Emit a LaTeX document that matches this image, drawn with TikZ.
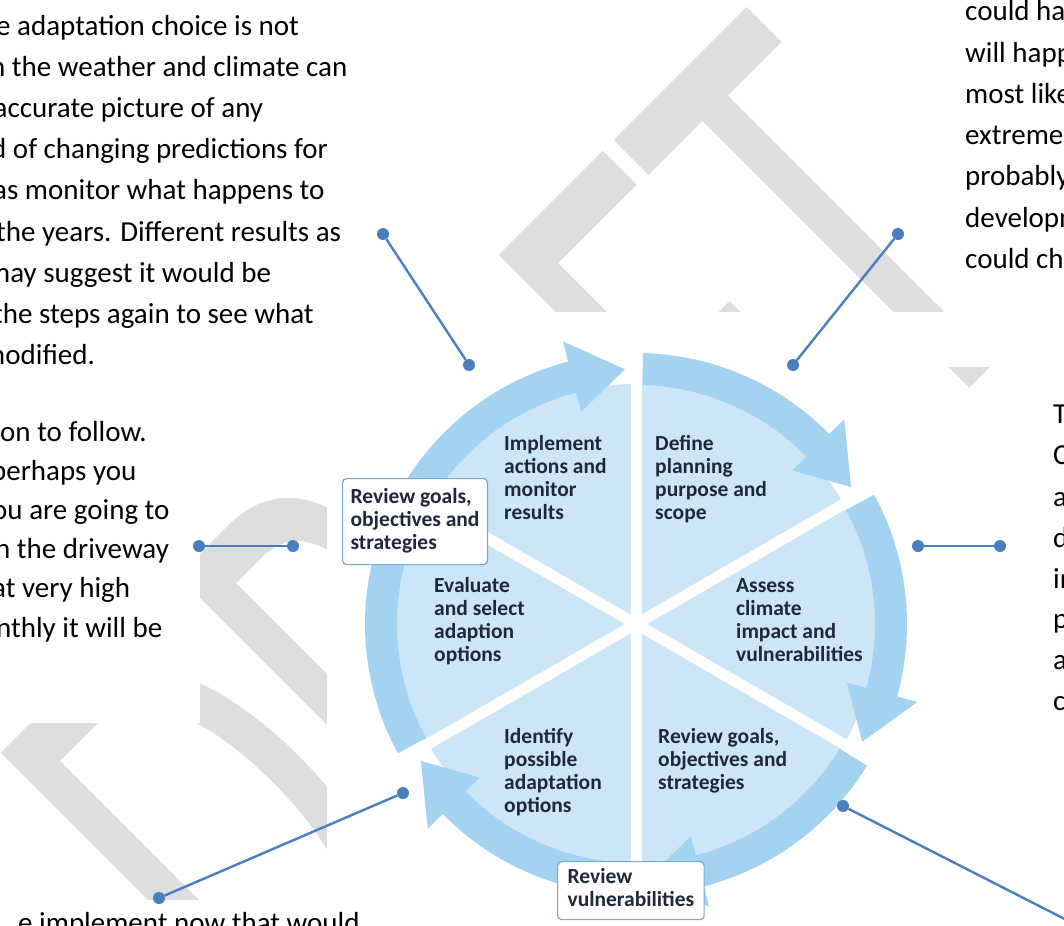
\documentclass[tikz,border=0pt]{standalone}
\usepackage{fontspec}
\setmainfont{Carlito}
\definecolor{ringblue}{RGB}{163,211,241}
\definecolor{discblue}{RGB}{204,230,247}
\definecolor{boxborder}{RGB}{120,170,205}
\definecolor{diagtext}{RGB}{30,40,58}
\definecolor{connblue}{RGB}{74,126,191}
\definecolor{wmgray}{RGB}{222,222,222}
\newcommand{\stacklines}[1]{\begin{tabular}[t]{@{}l@{}}#1\end{tabular}}
\begin{document}
\begin{tikzpicture}[x=1pt,y=-1pt,
  bodytext/.style={font=\fontsize{29}{41}\selectfont, anchor=base west, inner sep=0pt, text=black},
  steplabel/.style={font=\fontsize{21.5}{23}\selectfont\bfseries, anchor=base west, inner sep=0pt, text=diagtext},
  notebox/.style={font=\fontsize{21.5}{23}\selectfont\bfseries, anchor=north west, text=diagtext,
    draw=boxborder, line width=1.2pt, fill=white, rounded corners=4pt},
  dot/.style={circle, fill=connblue, inner sep=0pt, minimum size=12pt},
  conn/.style={draw=connblue, line width=2.4pt},
]
\useasboundingbox (0,0) rectangle (1064,925);
\clip (0,0) rectangle (1064,925);
\fill[white] (0,0) rectangle (1064,925);

% watermark
\node[text=wmgray, font=\fontsize{665}{700}\selectfont, rotate=45, xscale=0.61,
      anchor=base west, inner sep=0pt] (wm) at (283,1075) {DRAFT};

% areas of the page that sit over the watermark
\fill[white] (-10,-10) rectangle (200,723);
\fill[white] (-10,900) rectangle (327,935);
\fill[white] (327,312) rectangle (945,935);
\fill[white] (943,-10) rectangle (1070,367);

% left column text
\node[bodytext] (l1) at (-4,36) {e adaptation choice is not};
\node[bodytext] (l2) at (-10,77) {n the weather and climate can};
\node[bodytext] (l3) at (-6.5,118) {accurate picture of any};
\node[bodytext] (l4) at (-9,159) {d of changing predictions for};
\node[bodytext] (l5) at (-7,200) {as monitor what happens to};
\node[bodytext] (l6) at (-4,241) {the years. Different results as};
\node[bodytext] (l7) at (-13,282) {may suggest it would be};
\node[bodytext] (l8) at (-7,323) {the steps again to see what};
\node[bodytext] (l9) at (-18,364) {modified.};

\node[bodytext] (m1) at (0,441) {on to follow.};
\node[bodytext] (m2) at (-9,480) {perhaps you};
\node[bodytext] (m3) at (-8,519) {ou are going to};
\node[bodytext] (m4) at (-5,558) {n the driveway};
\node[bodytext] (m5) at (-8,597) {at very high};
\node[bodytext] (m6) at (-4,637) {nthly it will be};

\node[bodytext] (b1) at (18,932) {e implement now that would};

% right column text
\node[bodytext] (r1) at (965,21) {could have};
\node[bodytext] (r2) at (965,63) {will happen};
\node[bodytext] (r3) at (965,104) {most likely};
\node[bodytext] (r4) at (965,145) {extreme};
\node[bodytext] (r5) at (965,186) {probably};
\node[bodytext] (r6) at (965,227) {development};
\node[bodytext] (r7) at (965,268) {could change};

\node[bodytext] (s1) at (1053,423) {T};
\node[bodytext] (s2) at (1053,464) {C};
\node[bodytext] (s3) at (1053,506) {a};
\node[bodytext] (s4) at (1053,547) {d};
\node[bodytext] (s5) at (1053,588) {in};
\node[bodytext] (s6) at (1053,628) {p};
\node[bodytext] (s7) at (1053,669) {a};
\node[bodytext] (s8) at (1053,710) {c};

% cycle diagram
\begin{scope}[shift={(636,624)}, yscale=-1]
  \fill[discblue] (0,0) circle[radius=240];
  \foreach \a in {150,90,30,-30,-90,-150}{
    \pgfmathsetmacro{\angS}{\a-1.5}
    \pgfmathsetmacro{\angE}{\a-60+14.5}
    \pgfmathsetmacro{\angT}{\a-60+2.5}
    \fill[ringblue] (\angS:239) arc[start angle=\angS, end angle=\angE, radius=239]
      -- (\angE:219) -- (\angT:255) -- (\angE:292) -- (\angE:271)
      arc[start angle=\angE, end angle=\angS, radius=271] -- cycle;
  }
  \foreach \a in {90,30,-30,-90,-150,150}
    \draw[white, line width=11pt] (0,0) -- (\a:242);
\end{scope}

\node[steplabel] (implement) at (504,450) {\stacklines{Implement\\actions and\\monitor\\results}};
\node[steplabel] (define) at (655,450) {\stacklines{Define\\planning\\purpose and\\scope}};
\node[steplabel] (evaluate) at (434,592) {\stacklines{Evaluate\\and select\\adaption\\options}};
\node[steplabel] (assess) at (736,592) {\stacklines{Assess\\climate\\impact and\\vulnerabilities}};
\node[steplabel] (identify) at (504,743) {\stacklines{Identify\\possible\\adaptation\\options}};
\node[steplabel] (reviewlow) at (658,743) {\stacklines{Review goals,\\objectives and\\strategies}};

\node[notebox, inner xsep=8pt, inner ysep=8.5pt] (reviewgoals) at (342,478)
  {\stacklines{Review goals,\\objectives and\\strategies}};
\node[notebox, inner xsep=10pt, inner ysep=6pt] (reviewvul) at (557,861)
  {\stacklines{Review\\vulnerabilities}};

% callout connectors
\node[dot] (c1a) at (383,234) {};
\node[dot] (c1b) at (469,365) {};
\node[dot] (c2a) at (898,234) {};
\node[dot] (c2b) at (793,365) {};
\node[dot] (c3a) at (199,546) {};
\node[dot] (c3b) at (293,546) {};
\node[dot] (c4a) at (918,546) {};
\node[dot] (c4b) at (1000,546) {};
\node[dot] (c5a) at (159,898) {};
\node[dot] (c5b) at (403,793) {};
\node[dot] (c6a) at (843,806) {};
\coordinate (c6b) at (1100,937);

\draw[conn] (c1a) -- (c1b);
\draw[conn] (c2a) -- (c2b);
\draw[conn] (c3a) -- (c3b);
\draw[conn] (c4a) -- (c4b);
\draw[conn] (c5a) -- (c5b);
\draw[conn] (c6a) -- (c6b);
\end{tikzpicture}
\end{document}
